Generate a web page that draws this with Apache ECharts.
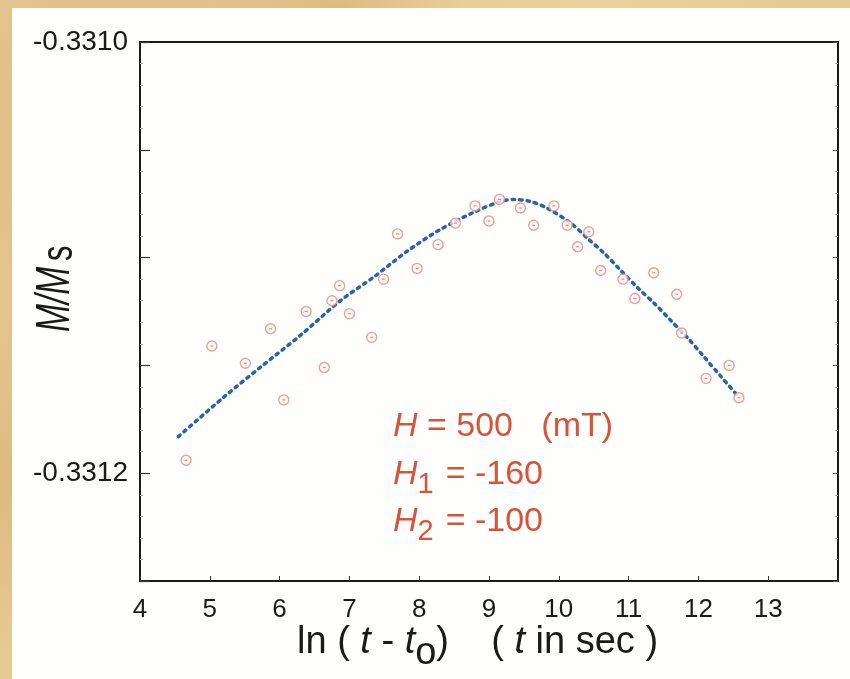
<!DOCTYPE html>
<html>
<head>
<meta charset="utf-8">
<script src="https://cdn.jsdelivr.net/npm/echarts@6/dist/echarts.min.js"></script>
<style>
  html, body { margin:0; padding:0; }
  body {
    width:850px; height:679px; overflow:hidden; position:relative;
    background-color:#e6ca94;
    background-image:
      radial-gradient(circle at 15% 20%, rgba(205,165,100,0.45), transparent 30%),
      radial-gradient(circle at 70% 5%, rgba(240,215,165,0.6), transparent 25%),
      radial-gradient(circle at 3% 70%, rgba(210,170,105,0.5), transparent 20%),
      radial-gradient(circle at 40% 2%, rgba(215,175,110,0.5), transparent 15%);
  }
  #paper { position:absolute; left:12px; top:8px; right:0; bottom:0; background:#fefefc; }
  #chart { position:absolute; left:0; top:0; width:850px; height:679px; }
</style>
</head>
<body>
<div id="paper"></div>
<div id="chart"></div>
<script>
// ---- data ----
const lnT = [4.66,5.03,5.51,5.87,6.06,6.38,6.64,6.75,6.86,7.00,7.32,7.49,7.69,7.97,8.27,8.52,8.80,9.00,9.15,9.45,9.64,9.93,10.12,10.27,10.43,10.60,10.92,11.09,11.36,11.69,11.76,12.11,12.44,12.58];
const mMs = [-0.331194,-0.331141,-0.331149,-0.331133,-0.331166,-0.331125,-0.331151,-0.331120,-0.331113,-0.331126,-0.331137,-0.331110,-0.331089,-0.331105,-0.331094,-0.331084,-0.331076,-0.331083,-0.331073,-0.331077,-0.331085,-0.331076,-0.331085,-0.331095,-0.331088,-0.331106,-0.331110,-0.331119,-0.331107,-0.331117,-0.331135,-0.331156,-0.331150,-0.331165];
const fitX = [4.55,5.19,5.72,6.30,6.87,7.35,7.83,8.30,8.78,9.16,9.36,9.60,9.83,10.17,10.41,10.65,10.89,11.13,11.36,11.60,11.84,12.08,12.32,12.56];
const fitY = [-0.331183,-0.331165,-0.331151,-0.331136,-0.331120,-0.331109,-0.331097,-0.331087,-0.331079,-0.331074,-0.331073,-0.331074,-0.331077,-0.331084,-0.331091,-0.331098,-0.331106,-0.331114,-0.331121,-0.331129,-0.331137,-0.331146,-0.331155,-0.331164];
const yLabelValues = [-0.3310, -0.3312];
const yLabelTexts = ['-0.3310', '-0.3312'];
const xHiddenLabel = 14;

const FONT = '"Liberation Sans", Arial, Helvetica, sans-serif';
const INK = '#1a1a1a';
const RED = '#d4553a';

const cv = document.createElement('canvas').getContext('2d');
function fontStr(p) { return (p.italic ? 'italic ' : '') + p.size + 'px ' + FONT; }
function measure(t, p) { cv.font = fontStr(p); return cv.measureText(t).width; }

// lay out a line of text pieces with baseline at local y = 0
function pieces(list, color) {
  let x = 0; const out = [];
  list.forEach(p => {
    x += (p.gap || 0);
    out.push({
      type: 'text', x: x, y: (p.dy || 0) - 0.3465 * p.size,
      style: { text: p.t, font: fontStr(p), fill: color,
               align: 'left', verticalAlign: 'middle', textAlign: 'left', textVerticalAlign: 'middle' }
    });
    x += measure(p.t, p);
  });
  return out;
}

const scatterData = lnT.map((x, i) => [x, mMs[i]]);
const fitData = fitX.map((x, i) => [x, fitY[i]]);

const chart = echarts.init(document.getElementById('chart'), null, { renderer: 'canvas' });
chart.setOption({
  backgroundColor: 'transparent',
  animation: false,
  grid: { left: 140, right: 12, top: 42, bottom: 98, show: true, borderColor: INK, borderWidth: 2, backgroundColor: 'transparent' },
  xAxis: {
    type: 'value', min: 4, max: 14, interval: 1,
    axisLine: { show: true, onZero: false, lineStyle: { color: INK, width: 2 } },
    axisTick: { show: true, inside: true, length: 5, lineStyle: { color: '#333', width: 1 } },
    axisLabel: { fontSize: 26, fontFamily: FONT, color: INK, margin: 16,
      formatter: v => (Math.abs(v - xHiddenLabel) < 1e-9 ? '' : String(v)) },
    splitLine: { show: false }
  },
  yAxis: [
    {
      type: 'value', min: -0.33125, max: -0.3310, interval: 0.00005,
      axisLine: { show: true, onZero: false, lineStyle: { color: INK, width: 2 } },
      axisTick: { show: true, inside: true, length: 10, lineStyle: { color: '#333', width: 1.2 } },
      minorTick: { show: true, splitNumber: 5, length: 3, lineStyle: { color: '#aaa', width: 1 } },
      axisLabel: { fontSize: 28, fontFamily: FONT, color: INK, margin: 12,
        formatter: v => { for (let i = 0; i < yLabelValues.length; i++) { if (Math.abs(v - yLabelValues[i]) < 1e-8) return yLabelTexts[i]; } return ''; } },
      splitLine: { show: false }
    },
    {
      type: 'value', position: 'right', min: -0.33125, max: -0.3310, interval: 0.00005,
      axisLine: { show: true, onZero: false, lineStyle: { color: INK, width: 2 } },
      axisTick: { show: true, inside: true, length: 5, lineStyle: { color: '#555', width: 1 } },
      minorTick: { show: true, splitNumber: 5, length: 3, lineStyle: { color: '#aaa', width: 1 } },
      axisLabel: { show: false },
      splitLine: { show: false }
    }
  ],
  series: [
    {
      type: 'line', data: fitData, smooth: 0.3, symbol: 'none', z: 3,
      lineStyle: { color: '#2d62a6', width: 3.5, type: [2.5, 5], cap: 'round' }
    },
    {
      type: 'scatter', data: scatterData, symbol: 'circle', symbolSize: 10, z: 4,
      itemStyle: { color: '#fff6f3', borderColor: '#dc8f88', borderWidth: 1.4 }
    },
    {
      type: 'scatter', data: scatterData, symbol: 'rect', symbolSize: [3, 1.2], z: 5,
      itemStyle: { color: '#c27a72' }, silent: true
    }
  ],
  graphic: [
    // y-axis title  M/Ms (rotated)
    { type: 'group', x: 72, y: 332, rotation: Math.PI / 2, scaleX: 0.7,
      children: pieces([
        { t: 'M/M', size: 48, italic: true },
        { t: 's', size: 44, dy: 3, gap: 8 }
      ], INK) },
    // x-axis title
    { type: 'group', x: 297, y: 656,
      children: pieces([
        { t: 'ln ( ', size: 38 },
        { t: 't', size: 38, italic: true },
        { t: ' - ', size: 38 },
        { t: 't', size: 38, italic: true },
        { t: 'o', size: 38, dy: 11 },
        { t: ')    ( ', size: 38 },
        { t: 't', size: 38, italic: true },
        { t: ' in sec )', size: 38 }
      ], INK) },
    // annotation
    { type: 'group', x: 393, y: 438,
      children: pieces([
        { t: 'H', size: 34, italic: true },
        { t: ' = 500   (mT)', size: 34 }
      ], RED) },
    { type: 'group', x: 393, y: 486,
      children: pieces([
        { t: 'H', size: 34, italic: true },
        { t: '1', size: 29, dy: 9 },
        { t: '= -160', size: 34, gap: 12 }
      ], RED) },
    { type: 'group', x: 393, y: 533,
      children: pieces([
        { t: 'H', size: 34, italic: true },
        { t: '2', size: 29, dy: 9 },
        { t: '= -100', size: 34, gap: 12 }
      ], RED) }
  ]
});
</script>
</body>
</html>
